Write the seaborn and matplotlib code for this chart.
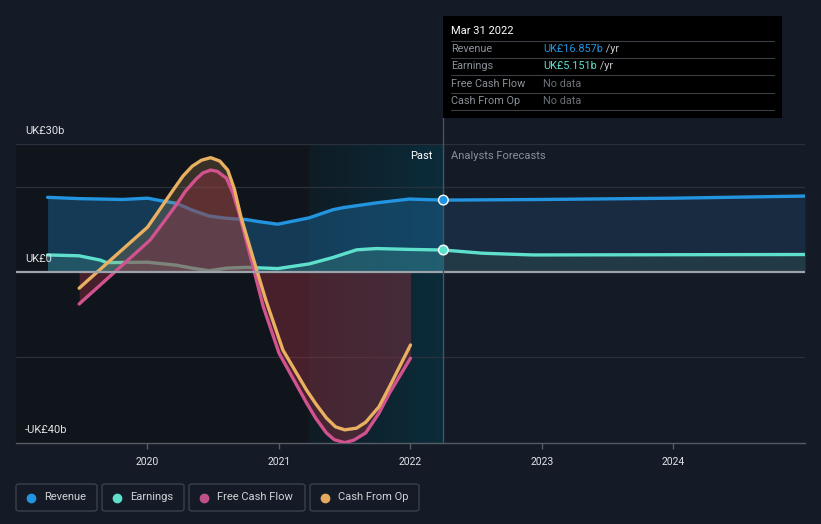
import numpy as np
import pandas as pd
import matplotlib.pyplot as plt
import seaborn as sns
from matplotlib.patches import FancyBboxPatch, Rectangle
from matplotlib.lines import Line2D
from matplotlib.colors import LinearSegmentedColormap

# ----------------------------------------------------------------------
# データ (UK£ billions, x = 年)
# ----------------------------------------------------------------------
rev_years = [2019.24, 2019.48, 2019.81, 2020.0, 2020.14, 2020.22, 2020.34, 2020.47,
             2020.6, 2020.75, 2020.85, 2020.99, 2021.23, 2021.41, 2021.49, 2021.74,
             2021.99, 2022.25]
rev_vals = [17.5, 17.2, 17.0, 17.3, 16.5, 16.1, 14.5, 13.1,
            12.6, 12.3, 11.8, 11.2, 12.7, 14.6, 15.1, 16.2,
            17.1, 16.857]
rev_fc_years = [2022.25, 2023.0, 2024.0, 2025.0]
rev_fc_vals = [16.857, 17.0, 17.3, 17.8]

earn_years = [2019.24, 2019.48, 2019.64, 2019.69, 2020.0, 2020.22, 2020.34, 2020.47,
              2020.6, 2020.75, 2020.99, 2021.23, 2021.41, 2021.59, 2021.74, 2021.99,
              2022.25]
earn_vals = [4.0, 3.8, 2.8, 2.2, 2.3, 1.6, 0.9, 0.3,
             0.9, 1.1, 0.8, 1.9, 3.4, 5.2, 5.5, 5.3,
             5.151]
earn_fc_years = [2022.25, 2022.55, 2022.93, 2025.0]
earn_fc_vals = [5.151, 4.4, 4.0, 4.1]

fcf_years = [2019.48, 2019.74, 2020.02, 2020.12, 2020.22, 2020.29, 2020.37, 2020.42,
             2020.48, 2020.53, 2020.6, 2020.65, 2020.7, 2020.79, 2020.88, 2021.0,
             2021.21, 2021.28, 2021.36, 2021.42, 2021.5, 2021.57, 2021.66, 2021.76,
             2021.84, 2022.0]
fcf_vals = [-7.5, -0.3, 7.5, 11.6, 15.8, 19.0, 21.8, 23.2,
            23.9, 23.6, 22.0, 18.5, 13.4, 2.8, -8.1, -19.0,
            -30.7, -34.3, -37.7, -39.3, -40.0, -39.4, -37.7, -33.1,
            -28.4, -20.2]

cfo_years = [2019.48, 2019.73, 2020.0, 2020.09, 2020.19, 2020.27, 2020.34, 2020.41,
             2020.48, 2020.55, 2020.61, 2020.66, 2020.71, 2020.8, 2020.9, 2021.03,
             2021.21, 2021.28, 2021.36, 2021.43, 2021.5, 2021.59, 2021.66, 2021.76,
             2021.84, 2022.0]
cfo_vals = [-3.8, 3.1, 10.5, 14.5, 19.0, 22.5, 24.8, 26.2,
            26.8, 26.0, 23.9, 19.5, 13.0, 3.6, -6.6, -18.3,
            -27.7, -30.9, -34.2, -36.3, -37.0, -36.6, -35.2, -31.6,
            -26.9, -17.1]

x_ticks = [2020, 2021, 2022, 2023, 2024]
legend_labels = ['Revenue', 'Earnings', 'Free Cash Flow', 'Cash From Op']
tooltip_rows = [('Revenue', 'UK£16.857b', ' /yr'), ('Earnings', 'UK£5.151b', ' /yr'),
                ('Free Cash Flow', 'No data', ''), ('Cash From Op', 'No data', '')]

# ----------------------------------------------------------------------
BG = '#151b26'
C_REV = '#2394df'
C_EARN = '#5ee0cd'
C_FCF = '#d0528f'
C_CFO = '#e8b060'
TODAY = 2022.25
PAST_START = 2021.23
Y_LO, Y_HI = -40.08, 35.63

sns.set_theme(style='dark')
plt.rcParams['font.family'] = ['Roboto', 'DejaVu Sans']

fig = plt.figure(figsize=(8.21, 5.24), dpi=100, facecolor=BG)
ax = fig.add_axes([16 / 821, 1 - 443 / 524, 789 / 821, 323 / 524])
ax.set_facecolor(BG)

# 背景の領域 (上端は30bのグリッド線まで)
ax.fill_between([2019.0, PAST_START], Y_LO, 30, color='#10141b', zorder=0, lw=0)
grad = LinearSegmentedColormap.from_list('g', ['#0f1c25', '#0b2c3a'])
ax.imshow(np.linspace(0, 1, 100).reshape(1, -1), cmap=grad, aspect='auto',
          extent=[PAST_START, TODAY, Y_LO, 30], zorder=0.5)
ax.set_xlim(2019.0, 2025.0)
ax.set_ylim(Y_LO, Y_HI)

# グリッド線
for v in [30, 20, -20]:
    ax.axhline(v, color='#2a313c', lw=0.9, zorder=1)

# 塗りつぶし
ax.fill_between(rev_years, rev_vals, 0, color='#1d6a9e', alpha=0.45, lw=0, zorder=2)
ax.fill_between(rev_fc_years, rev_fc_vals, 0, color='#1e3a56', alpha=0.55, lw=0, zorder=2)
ax.fill_between(earn_years, earn_vals, 0, color='#3a8a84', alpha=0.35, lw=0, zorder=2.1)
ax.fill_between(earn_fc_years, earn_fc_vals, 0, color='#2b4a4c', alpha=0.5, lw=0, zorder=2.1)

# 売上・利益ライン
line_kw = dict(lw=2.4, solid_joinstyle='round', solid_capstyle='round')
sns.lineplot(x=rev_years, y=rev_vals, color=C_REV, ax=ax, zorder=3, **line_kw)
sns.lineplot(x=rev_fc_years, y=rev_fc_vals, color=C_REV, ax=ax, zorder=3, **line_kw)
sns.lineplot(x=earn_years, y=earn_vals, color=C_EARN, ax=ax, zorder=3, **line_kw)
sns.lineplot(x=earn_fc_years, y=earn_fc_vals, color=C_EARN, ax=ax, zorder=3, **line_kw)

# キャッシュフローの塗りつぶし (線の上に重ねる)
ax.fill_between(cfo_years, cfo_vals, 0, where=np.array(cfo_vals) > 0, interpolate=True,
                color='#b08a50', alpha=0.25, lw=0, zorder=4)
ax.fill_between(fcf_years, fcf_vals, 0, color='#8c3040', alpha=0.45, lw=0, zorder=4)

sns.lineplot(x=fcf_years, y=fcf_vals, color=C_FCF, ax=ax, zorder=5, **line_kw)
sns.lineplot(x=cfo_years, y=cfo_vals, color=C_CFO, ax=ax, zorder=5, **line_kw)

# ゼロ線・現在位置
ax.axhline(0, color='#9ca3ab', lw=1.6, zorder=6)
ax.axvline(TODAY, ymin=0, ymax=1.01, color='#3b5866', lw=1, zorder=6, clip_on=False)
ax.scatter([TODAY, TODAY], [rev_vals[-1], earn_vals[-1]], s=48,
           c=[C_REV, C_EARN], edgecolors='white', linewidths=1, zorder=7)

ax.text(TODAY - 0.08, 27.1, 'Past', color='white', fontsize=8, ha='right', va='center')
ax.text(TODAY + 0.06, 27.1, 'Analysts Forecasts', color='#8a9099', fontsize=8,
        ha='left', va='center')

# 軸
ax.set_xticks(x_ticks)
ax.set_xticklabels([str(t) for t in x_ticks], color='#e0e3e7', fontsize=7.5)
ax.set_yticks([])
ax.tick_params(axis='x', length=4, width=1, color='#555c66', pad=6, bottom=True)
ax.set_xlabel('')
ax.set_ylabel('')
for s in ['top', 'right', 'left']:
    ax.spines[s].set_visible(False)
ax.spines['bottom'].set_color('#555c66')
ax.spines['bottom'].set_linewidth(1)

for yv, lab in [(30, 'UK£30b'), (0, 'UK£0'), (-40, '-UK£40b')]:
    ax.text(2019.07, yv + 3, lab, color='#e0e3e7', fontsize=8, ha='left', va='center',
            zorder=8)

# ツールチップ
W, H = 821, 524
def fx(px):
    return px / W
def fy(py):
    return 1 - py / H

fig.patches.append(Rectangle((fx(443), fy(118)), fx(782) - fx(443), fy(16) - fy(118),
                             transform=fig.transFigure, facecolor='black',
                             edgecolor='none', zorder=10))
fig.text(fx(451), fy(31), 'Mar 31 2022', color='white', fontsize=8, va='center', zorder=11)
row_y = [49, 66, 84, 101]
for py in [41, 58, 75, 93, 110]:
    fig.add_artist(Line2D([fx(451), fx(774)], [fy(py), fy(py)], color='#3a3f45', lw=0.8,
                          transform=fig.transFigure, zorder=11))
val_colors = [C_REV, C_EARN, '#6c7178', '#6c7178']
for (name, val, unit), py, vc in zip(tooltip_rows, row_y, val_colors):
    fig.text(fx(451), fy(py), name, color='#8a9099', fontsize=7.8, va='center', zorder=11)
    t = fig.text(fx(543), fy(py), val, color=vc, fontsize=7.8, va='center', zorder=11)
    if unit:
        fig.canvas.draw()
        bb = t.get_window_extent()
        fig.text(bb.x1 / W, fy(py), unit, color='#c0c4c9', fontsize=7.8,
                 va='center', zorder=11)

# 凡例 (個別の枠)
boxes = [(16, 97), (102, 184), (189, 305), (310, 419)]
dot_colors = [C_REV, C_EARN, '#c0508a', '#e5a85e']
for (x0, x1), lab, dc in zip(boxes, legend_labels, dot_colors):
    fig.patches.append(FancyBboxPatch((fx(x0), fy(511)), fx(x1) - fx(x0), fy(484) - fy(511),
                                      boxstyle='round,pad=0,rounding_size=0.004',
                                      transform=fig.transFigure, facecolor='none',
                                      edgecolor='#3a414b', lw=1))
    fig.add_artist(Line2D([fx(x0 + 15)], [fy(497.5)], marker='o', ms=6, color=dc,
                          transform=fig.transFigure, lw=0))
    fig.text(fx(x0 + 28), fy(497.5), lab, color='#cfd3d8', fontsize=8, va='center')

fig.savefig('out.png', dpi=100, facecolor=BG)
